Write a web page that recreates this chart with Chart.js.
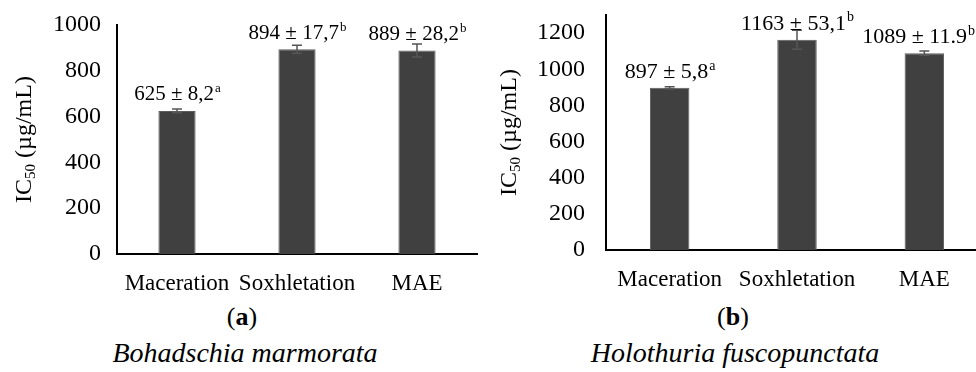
<!DOCTYPE html>
<html>
<head>
<meta charset="utf-8">
<script src="https://cdn.jsdelivr.net/npm/chart.js@4.4.0/dist/chart.umd.min.js"></script>
<style>
  body { margin: 0; width: 976px; height: 372px; overflow: hidden; background: #fff; position: relative; }
  canvas { position: absolute; top: 0; }
  .cap { position: absolute; width: 490px; text-align: center; font-family: 'Liberation Serif', serif; color: #000; }
  .letter { top: 302px; font-size: 26px; }
  .letter b { font-weight: bold; }
  .species { top: 337px; font-size: 28px; font-style: italic; }
</style>
</head>
<body>
<canvas id="chartA" width="490" height="300" style="left:0;width:490px;height:300px"></canvas>
<canvas id="chartB" width="500" height="300" style="left:490px;width:500px;height:300px"></canvas>
<div class="cap letter" style="left:-3px">(<b>a</b>)</div>
<div class="cap letter" style="left:488px">(<b>b</b>)</div>
<div class="cap species" style="left:0">Bohadschia marmorata</div>
<div class="cap species" style="left:490px">Holothuria fuscopunctata</div>
<script>
const methods = ['Maceration', 'Soxhletation', 'MAE'];

// (a) Bohadschia marmorata
const valuesA = [625, 894, 889];
const errorsA = [8.2, 17.7, 28.2];
const textA   = ['625 ± 8,2', '894 ± 17,7', '889 ± 28,2'];
const groupA  = ['a', 'b', 'b'];
const ticksA  = [0, 200, 400, 600, 800, 1000];

// (b) Holothuria fuscopunctata
const valuesB = [897, 1163, 1089];
const errorsB = [5.8, 53.1, 11.9];
const textB   = ['897 ± 5,8', '1163 ± 53,1', '1089 ± 11.9'];
const groupB  = ['a', 'b', 'b'];
const ticksB  = [0, 200, 400, 600, 800, 1000, 1200];

const serif = "'Liberation Serif', 'Times New Roman', serif";

// error bars, value labels and the y title
const extras = {
  id: 'extras',
  afterDatasetsDraw(chart, args, opts) {
    const ctx = chart.ctx;
    const y = chart.scales.y;
    const meta = chart.getDatasetMeta(0);
    ctx.save();
    meta.data.forEach((bar, i) => {
      const v = opts.values[i], e = opts.errors[i];
      const top = y.getPixelForValue(v + e);
      const bot = y.getPixelForValue(v - e);
      ctx.strokeStyle = '#555';
      ctx.lineWidth = 1.5;
      ctx.beginPath();
      ctx.moveTo(bar.x, top); ctx.lineTo(bar.x, bot);
      ctx.moveTo(bar.x - 5, top); ctx.lineTo(bar.x + 5, top);
      ctx.moveTo(bar.x - 5, bot); ctx.lineTo(bar.x + 5, bot);
      ctx.stroke();

      // label with superscript letter, kept inside the visible page
      ctx.fillStyle = '#000';
      ctx.textBaseline = 'middle';
      ctx.textAlign = 'left';
      const sup = Math.round(opts.labelSize * 0.62) + 'px ' + serif;
      ctx.font = opts.labelSize + 'px ' + serif;
      const w1 = ctx.measureText(opts.text[i]).width;
      ctx.font = sup;
      const w2 = ctx.measureText(opts.group[i]).width;
      let x0 = bar.x - (w1 + w2) / 2;
      if (x0 + w1 + w2 > opts.maxRight) x0 = opts.maxRight - w1 - w2;
      const ly = bar.y - 16;
      ctx.font = opts.labelSize + 'px ' + serif;
      ctx.fillText(opts.text[i], x0, ly);
      ctx.font = sup;
      ctx.fillText(opts.group[i], x0 + w1 + 1, ly - 6);
    });

    // y title "IC50 (µg/mL)"
    const cy = (chart.chartArea.top + chart.chartArea.bottom) / 2;
    ctx.translate(opts.titleX, cy);
    ctx.rotate(-Math.PI / 2);
    ctx.textBaseline = 'middle';
    ctx.textAlign = 'left';
    ctx.font = '24px ' + serif;
    const a = ctx.measureText('IC').width;
    const c = ctx.measureText(' (µg/mL)').width;
    ctx.font = '15px ' + serif;
    const b = ctx.measureText('50').width;
    const x = -(a + b + c) / 2;
    ctx.font = '24px ' + serif;
    ctx.fillText('IC', x, 0);
    ctx.font = '15px ' + serif;
    ctx.fillText('50', x + a, 6);
    ctx.font = '24px ' + serif;
    ctx.fillText(' (µg/mL)', x + a + b, 0);
    ctx.restore();
  }
};

function makeChart(id, values, errors, text, group, tickValues, cfg) {
  return new Chart(document.getElementById(id), {
    type: 'bar',
    data: {
      labels: methods,
      datasets: [{
        data: values,
        backgroundColor: '#404040',
        borderColor: '#5c5c5c',
        borderWidth: 1,
        barPercentage: cfg.barPct,
        categoryPercentage: 1
      }]
    },
    plugins: [extras],
    options: {
      responsive: false,
      animation: false,
      layout: { padding: { top: cfg.top, right: cfg.right, left: 0, bottom: 0 } },
      plugins: {
        legend: { display: false },
        tooltip: { enabled: false },
        extras: { values, errors, text, group, labelSize: cfg.labelSize, titleX: cfg.titleX, maxRight: cfg.maxRight }
      },
      scales: {
        x: {
          grid: { display: false },
          border: { color: '#000', width: 2 },
          ticks: {
            color: '#000',
            font: { family: serif, size: 23 },
            padding: 8,
            autoSkip: false,
            maxRotation: 0,
            minRotation: 0
          },
          afterFit: s => { s.height = cfg.xHeight; }
        },
        y: {
          min: 0,
          max: cfg.max,
          grid: { display: false },
          border: { color: '#000', width: 2 },
          ticks: {
            autoSkip: false,
            color: '#000',
            padding: cfg.tickPad,
            font: { family: serif, size: 24 },
            callback: v => String(v)
          },
          afterBuildTicks: s => { s.ticks = tickValues.map(v => ({ value: v })); },
          afterFit: s => { s.width = cfg.yWidth; s.paddingTop = 0; s.paddingBottom = 0; }
        }
      }
    }
  });
}

makeChart('chartA', valuesA, errorsA, textA, groupA, ticksA,
  { max: 1000, top: 25, right: 13, xHeight: 46, yWidth: 117, barPct: 0.31, labelSize: 21, titleX: 25, maxRight: 490, tickPad: 8 });
makeChart('chartB', valuesB, errorsB, textB, groupB, ticksB,
  { max: 1300, top: 15, right: 2, xHeight: 50, yWidth: 116, barPct: 0.31, labelSize: 22, titleX: 20, maxRight: 484, tickPad: 13 });
</script>
</body>
</html>
